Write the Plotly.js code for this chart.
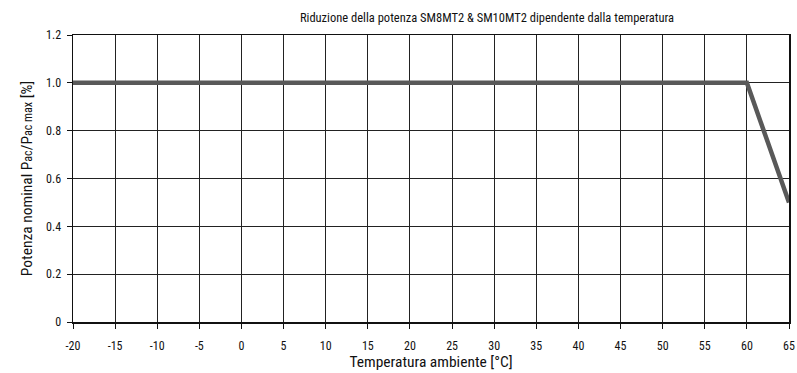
<!DOCTYPE html>
<html><head><meta charset="utf-8">
<script src="https://cdn.plot.ly/plotly-3.0.1.min.js"></script>
<style>body{margin:0;background:#fff}#c{width:797px;height:373px}</style>
</head><body><div id="c"></div>
<script>
const temps = [-20, 60, 65];
const power = [1.0, 1.0, 0.5];
const xTicks = [-20,-15,-10,-5,0,5,10,15,20,25,30,35,40,45,50,55,60,65];
const yTicks = [0,0.2,0.4,0.6,0.8,1.0,1.2];
const yTickLabels = ['0','0.2','0.4','0.6','0.8','1.0','1.2'];
const F = '"Roboto Condensed","Liberation Sans Narrow",Arial,sans-serif';
Plotly.newPlot('c', [{
  x: temps, y: power, type: 'scatter', mode: 'lines',
  line: {color: '#595959', width: 4.5}, cliponaxis: true, hoverinfo: 'none'
}], {
  width: 797, height: 373,
  margin: {l: 73, r: 8, t: 35, b: 51},
  paper_bgcolor: '#fff', plot_bgcolor: '#fff',
  showlegend: false,
  font: {family: F, size: 12, color: '#111'},
  title: {text: 'Riduzione della potenza SM8MT2 &amp; SM10MT2 dipendente dalla temperatura',
    font: {family: F, size: 12.5, color: '#111'}, x: 0.611, xanchor: 'center', y: 0.952, yanchor: 'middle'},
  xaxis: {range: [-20, 65], tickvals: xTicks, ticktext: xTicks.map(String),
    showgrid: true, gridcolor: '#222', gridwidth: 1, zeroline: false,
    showline: true, linecolor: '#111', linewidth: 1.5, mirror: true,
    ticks: 'outside', ticklen: 5, tickcolor: '#111', ticklabelstandoff: 7,
    title: {text: 'Temperatura ambiente [°C]', font: {family: F, size: 15.5, color: '#111'}, standoff: 4}},
  yaxis: {range: [0, 1.2], tickvals: yTicks, ticktext: yTickLabels,
    showgrid: true, gridcolor: '#222', gridwidth: 1, zeroline: false,
    showline: true, linecolor: '#111', linewidth: 1.5, mirror: true,
    ticks: 'outside', ticklen: 5, tickcolor: '#111', ticklabelstandoff: 3,
    title: {text: 'Potenza nominal P<span style="font-size:12px">ac</span>/P<span style="font-size:12px">ac max</span> [%]', font: {family: F, size: 15.5, color: '#111'}, standoff: 9}}
}, {staticPlot: true});
</script></body></html>
